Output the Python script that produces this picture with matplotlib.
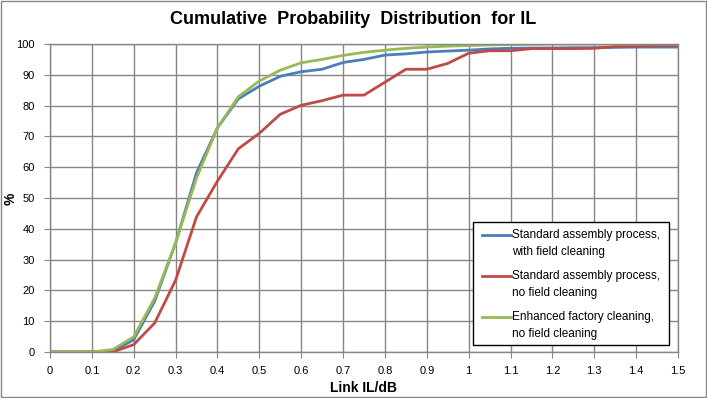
import matplotlib
matplotlib.use('Agg')
import matplotlib.pyplot as plt
from matplotlib.patches import Rectangle
from matplotlib.lines import Line2D

# Datos (IL en dB, probabilidad acumulada en %)
link_il = [0, 0.05, 0.1, 0.15, 0.2, 0.25, 0.3, 0.35, 0.4, 0.45, 0.5, 0.55, 0.6, 0.65, 0.7, 0.75,
           0.8, 0.85, 0.9, 0.95, 1.0, 1.05, 1.1, 1.15, 1.2, 1.25, 1.3, 1.35, 1.4, 1.45, 1.5]
std_con_limpieza = [0, 0, 0, 0.2, 4.0, 16.5, 35.4, 58.2, 72.8, 82.2, 86.3, 89.5, 91.0, 91.8, 94.0, 95.0,
                    96.4, 96.8, 97.4, 97.7, 98.0, 98.4, 98.6, 98.7, 98.7, 98.8, 98.8, 98.9, 99.0, 99.0, 99.0]
std_sin_limpieza = [0, 0, 0, 0, 2.4, 9.4, 23.3, 43.9, 55.5, 66.0, 71.0, 77.2, 80.1, 81.6, 83.4, 83.4,
                    87.6, 91.8, 91.8, 93.7, 97.0, 97.8, 97.8, 98.5, 98.5, 98.5, 98.6, 99.2, 99.3, 99.4, 99.5]
mejorada_sin_limpieza = [0, 0, 0, 0.8, 4.9, 17.5, 35.4, 56.5, 72.8, 82.9, 88.0, 91.5, 93.9, 95.0, 96.3, 97.3,
                         98.0, 98.6, 99.0, 99.3, 99.5, 99.7, 99.8, 99.9, 100, 100, 100, 100, 100, 100, 100]
etiquetas = ['Standard assembly process,\nwith field cleaning',
             'Standard assembly process,\nno field cleaning',
             'Enhanced factory cleaning,\nno field cleaning']
colores = ['#4A7EBB', '#BE4B48', '#98B954']

plt.rcParams['font.family'] = ['Liberation Sans', 'DejaVu Sans']

fig = plt.figure(figsize=(7.07, 3.98), dpi=100)
ax = fig.add_axes([50 / 707, 46 / 398, 628 / 707, 308 / 398])

for serie, color in zip([std_con_limpieza, std_sin_limpieza, mejorada_sin_limpieza], colores):
    ax.plot(link_il, serie, color=color, linewidth=2)

ax.set_xlim(0, 1.5)
ax.set_ylim(0, 100)
ax.set_xticks([i / 10 for i in range(16)])
ax.set_xticklabels([f'{i / 10:g}' for i in range(16)])
ax.set_yticks(range(0, 101, 10))
ax.tick_params(axis='x', labelsize=8, length=4, color='#868686', direction='out', pad=6)
ax.tick_params(axis='y', labelsize=8, length=4, color='#868686', direction='out', pad=7)
ax.grid(True, color='#868686', linewidth=1)
ax.set_axisbelow(True)
for lado in ax.spines.values():
    lado.set_color('#868686')
    lado.set_linewidth(1)

ax.set_xlabel('Link IL/dB', fontsize=10, fontweight='bold', labelpad=4)

def fx(px):
    return px / 707

def fy(py):
    return 1 - py / 398

fig.text(fx(11), fy(199), '%', rotation=90, ha='center', va='center', fontsize=10, fontweight='bold')
fig.text(0.5, fy(20), 'Cumulative  Probability  Distribution  for IL',
         ha='center', va='center', fontsize=13, fontweight='bold')

# Leyenda dibujada a mano (la línea va a la altura de la primera línea del texto)
fig.patches.append(Rectangle((fx(473), fy(345)), fx(669) - fx(473), fy(222) - fy(345),
                             transform=fig.transFigure, facecolor='white', edgecolor='black',
                             linewidth=1, zorder=5))
for i, (etiqueta, color) in enumerate(zip(etiquetas, colores)):
    y1 = 235 + i * 41
    fig.lines.append(Line2D([fx(482), fx(511)], [fy(y1), fy(y1)], transform=fig.transFigure,
                            color=color, linewidth=2, zorder=6))
    primera, segunda = etiqueta.split('\n')
    fig.text(fx(512), fy(y1), primera, ha='left', va='center', fontsize=8.5, zorder=6)
    fig.text(fx(512), fy(y1 + 17), segunda, ha='left', va='center', fontsize=8.5, zorder=6)

# Borde gris alrededor de la figura
fig.patches.append(Rectangle((0.001, 0.002), 0.997, 0.996, transform=fig.transFigure,
                             fill=False, edgecolor='#868686', linewidth=1))

plt.savefig('out.png', dpi=100)
plt.close()
